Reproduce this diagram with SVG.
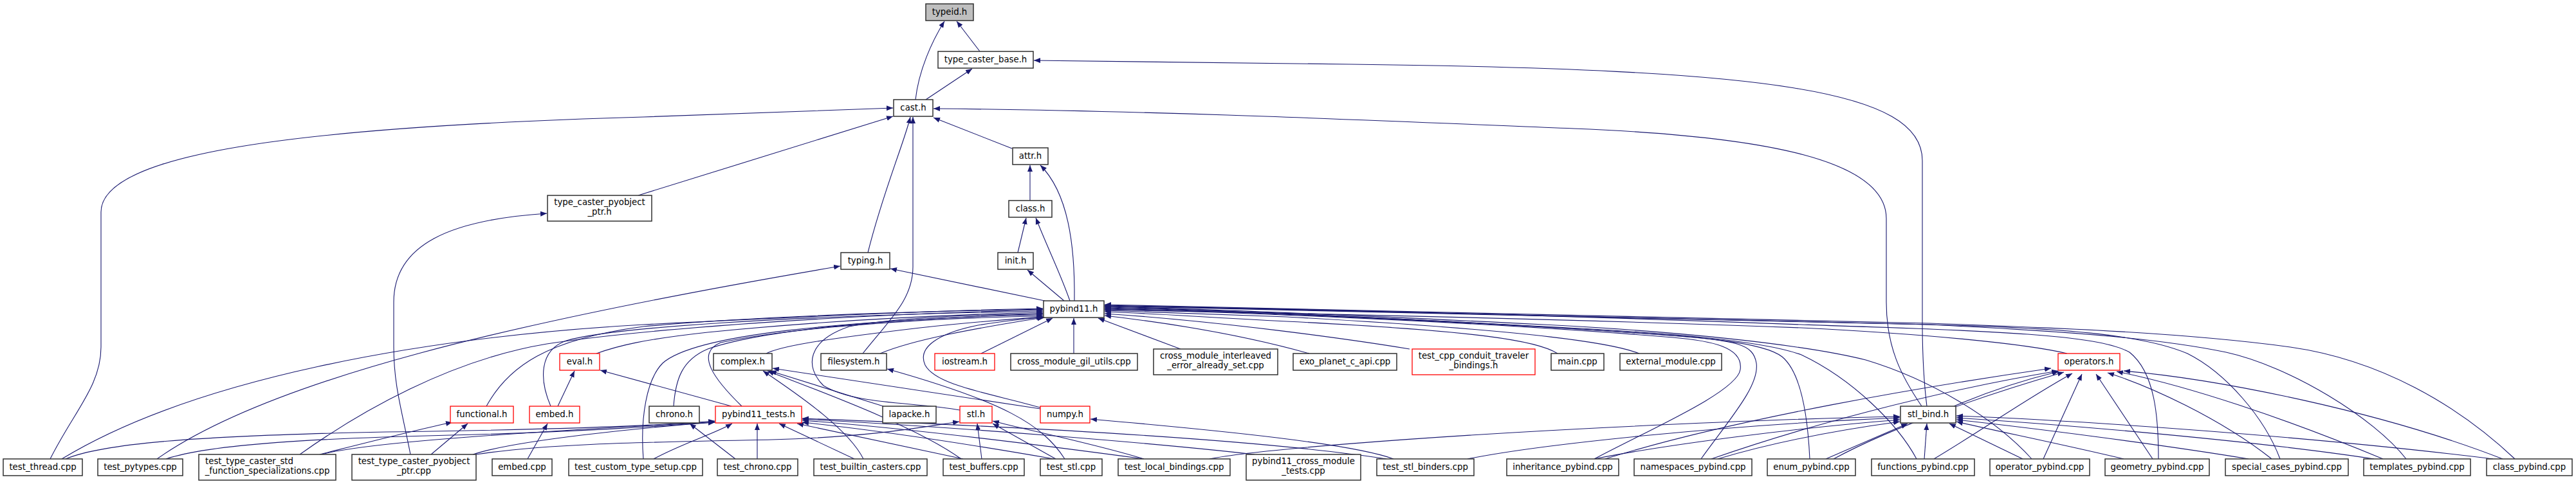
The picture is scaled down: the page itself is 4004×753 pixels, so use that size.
<svg xmlns="http://www.w3.org/2000/svg" width="4004" height="753" viewBox="0 0 4004 753">
<style>
.e{fill:none;stroke:#191970;stroke-width:1.1;marker-end:url(#ah)}
.n{fill:#ffffff;stroke:#303030;stroke-width:1.5}
.r{fill:#ffffff;stroke:#ff0000;stroke-width:1.3}
.g{fill:#bfbfbf;stroke:#303030;stroke-width:1.5}
text{font-family:"DejaVu Sans","Liberation Sans",sans-serif;font-size:13.3px;fill:#000000}
.m{text-anchor:middle}
</style>
<defs>
<marker id="ah" markerUnits="userSpaceOnUse" markerWidth="11" markerHeight="9" refX="10" refY="4.5" orient="auto">
<path d="M0,0.5 L10,4.5 L0,8.5 z" fill="#191970"/>
</marker>
</defs>
<rect x="0" y="0" width="4004" height="753" fill="#ffffff"/>
<g id="edges">
<path class="e" d="M1523,80 L1487,33"/>
<path class="e" d="M1423,155 C1428,110 1448,65 1468,33"/>
<path class="e" d="M1439,155 L1511,107"/>
<path class="e" d="M2995,632 C2991,600 2988,560 2988,500 L2988,250 C2988,140 2750,108 2100,100 C1900,97 1750,95 1607,94"/>
<path class="e" d="M2987,632 C2955,585 2932,540 2932,470 L2932,340 C2932,250 2750,212 2446,200 C2150,188 1800,172 1451,169"/>
<path class="e" d="M1573,231 L1451,183"/>
<path class="e" d="M992,304 L1388,181"/>
<path class="e" d="M1349,393 C1372,300 1406,220 1415,182"/>
<path class="e" d="M1341,550 C1385,495 1419,465 1419,415 L1419,182"/>
<path class="e" d="M1601,312 L1601,257"/>
<path class="e" d="M1582,393 L1595,339"/>
<path class="e" d="M1663,468 C1648,425 1628,385 1610,339"/>
<path class="e" d="M1670,468 C1671,380 1660,300 1617,257"/>
<path class="e" d="M1654,468 L1597,420"/>
<path class="e" d="M1624,468 L1384,418"/>
<path class="e" d="M244,714 C420,590 800,500 1306,414"/>
<path class="e" d="M78,714 C115,640 157,600 157,540 L157,330 C157,240 450,198 1000,182 C1200,176 1300,170 1388,168"/>
<path class="e" d="M638,707 C625,640 612,600 612,540 L612,470 C612,380 700,342 850,332"/>
<path class="e" d="M96,714 C300,590 650,525 1000,505 C1300,490 1500,482 1621,480"/>
<path class="e" d="M466,707 C560,640 700,560 850,535 C1000,512 1300,490 1621,482"/>
<path class="e" d="M756,632 C790,570 850,528 1000,508 C1200,490 1450,484 1621,481"/>
<path class="e" d="M856,632 C838,590 838,545 880,530 C950,510 1200,492 1621,484"/>
<path class="e" d="M927,550 C960,538 1000,528 1100,517 C1300,497 1500,489 1621,486"/>
<path class="e" d="M1000,714 C995,650 1005,590 1030,565 C1080,520 1300,500 1621,488"/>
<path class="e" d="M1047,632 C1050,590 1060,560 1100,543 C1200,508 1450,492 1621,490"/>
<path class="e" d="M1153,632 C1110,590 1080,550 1120,533 C1250,505 1500,493 1621,492"/>
<path class="e" d="M1191,550 C1210,540 1260,530 1430,510 C1520,500 1580,496 1621,493"/>
<path class="e" d="M1368,550 C1420,528 1520,510 1622,494"/>
<path class="e" d="M1492,638 C1420,625 1330,630 1280,600 C1250,570 1255,530 1320,508 C1400,492 1550,489 1621,488"/>
<path class="e" d="M1617,634 C1540,612 1455,600 1438,568 C1425,540 1460,518 1520,506 C1570,498 1600,495 1624,494"/>
<path class="e" d="M1525,550 L1636,495"/>
<path class="e" d="M1669,550 L1669,495"/>
<path class="e" d="M1655,714 C1620,660 1560,625 1379,574"/>
<path class="e" d="M1835,543 L1707,495"/>
<path class="e" d="M2035,550 C2010,543 1900,512 1717,491"/>
<path class="e" d="M2191,543 C2100,528 1900,500 1717,488"/>
<path class="e" d="M2421,550 C2390,530 2300,515 2000,500 C1850,492 1760,486 1717,485"/>
<path class="e" d="M2548,550 C2510,535 2400,515 2000,493 C1850,487 1760,484 1717,483"/>
<path class="e" d="M3213,550 C3150,535 3000,520 2800,510 C2400,495 2000,487 1717,482"/>
<path class="e" d="M2478,714 C2560,670 2700,610 2705,575 C2710,540 2660,530 2600,525 C2300,500 1900,485 1717,481"/>
<path class="e" d="M2644,714 C2690,650 2735,600 2730,565 C2725,535 2700,530 2600,522 C2300,500 1900,484 1717,480"/>
<path class="e" d="M2813,714 C2810,650 2800,580 2770,555 C2740,532 2650,525 2500,515 C2200,495 1900,483 1717,479"/>
<path class="e" d="M2979,714 C2950,660 2880,590 2800,552 C2740,530 2600,518 2400,508 C2100,492 1850,481 1717,478"/>
<path class="e" d="M3158,714 C3100,650 3000,590 2900,560 C2800,535 2600,515 2400,505 C2100,490 1850,480 1717,477"/>
<path class="e" d="M3355,714 C3355,650 3350,580 3310,548 C3260,520 3100,515 2800,505 C2400,490 2000,480 1717,476"/>
<path class="e" d="M3544,714 C3520,650 3460,580 3400,550 C3330,520 3200,510 3000,505 C2500,490 2000,480 1717,476"/>
<path class="e" d="M3740,714 C3690,650 3560,570 3460,548 C3350,525 3200,515 3000,505 C2500,490 2000,478 1717,475"/>
<path class="e" d="M3909,714 C3820,630 3700,560 3560,540 C3400,518 3200,510 3000,503 C2500,488 2000,477 1717,474"/>
<path class="e" d="M2495,714 C2700,650 3000,600 3188,573"/>
<path class="e" d="M2660,714 C2800,665 3000,610 3199,577"/>
<path class="e" d="M2850,714 C2950,660 3100,610 3208,579"/>
<path class="e" d="M3006,714 C3080,670 3150,620 3221,581"/>
<path class="e" d="M3037,632 C3100,605 3150,590 3200,578"/>
<path class="e" d="M3176,714 L3236,582"/>
<path class="e" d="M3346,714 L3258,582"/>
<path class="e" d="M3531,714 C3450,650 3340,600 3276,580"/>
<path class="e" d="M3704,714 C3550,650 3400,600 3290,578"/>
<path class="e" d="M3890,714 C3700,640 3450,590 3301,577"/>
<path class="e" d="M1880,714 C1950,700 2200,680 2500,665 C2700,655 2850,650 2953,648"/>
<path class="e" d="M2281,714 C2400,690 2700,660 2953,650"/>
<path class="e" d="M2478,714 C2600,690 2800,665 2953,653"/>
<path class="e" d="M2670,714 C2750,690 2850,670 2953,656"/>
<path class="e" d="M2838,714 L2965,659"/>
<path class="e" d="M2991,714 L2995,659"/>
<path class="e" d="M3144,714 L3030,659"/>
<path class="e" d="M3301,714 C3200,690 3100,670 3041,656"/>
<path class="e" d="M3495,714 C3350,690 3150,665 3041,653"/>
<path class="e" d="M3690,714 C3500,685 3200,660 3041,650"/>
<path class="e" d="M3875,714 C3600,680 3250,655 3041,647"/>
<path class="e" d="M102,714 C160,690 300,678 600,672 C900,668 1050,660 1111,655"/>
<path class="e" d="M258,714 C330,690 500,682 700,677 C900,672 1050,662 1111,656"/>
<path class="e" d="M500,707 C560,690 800,672 1111,657"/>
<path class="e" d="M735,707 C800,685 1000,665 1111,657"/>
<path class="e" d="M1016,714 C1060,690 1110,675 1138,659"/>
<path class="e" d="M1177,714 L1177,659"/>
<path class="e" d="M1328,714 L1211,659"/>
<path class="e" d="M1497,714 L1239,659"/>
<path class="e" d="M1638,714 C1500,690 1350,668 1247,657"/>
<path class="e" d="M1778,714 C1600,690 1400,665 1247,654"/>
<path class="e" d="M1950,707 C1800,690 1500,665 1247,652"/>
<path class="e" d="M2155,714 C2000,690 1700,668 1247,651"/>
<path class="e" d="M1143,714 L1072,659"/>
<path class="e" d="M497,707 C580,686 650,668 703,657"/>
<path class="e" d="M670,707 L727,659"/>
<path class="e" d="M820,714 L851,659"/>
<path class="e" d="M867,632 L893,577"/>
<path class="e" d="M1137,632 L933,576"/>
<path class="e" d="M1342,714 C1320,670 1250,620 1186,577"/>
<path class="e" d="M1494,714 C1420,660 1250,600 1193,577"/>
<path class="e" d="M1373,632 L1197,577"/>
<path class="e" d="M1617,636 L1201,573"/>
<path class="e" d="M740,707 C850,690 1000,688 1200,684 C1350,680 1430,665 1491,656"/>
<path class="e" d="M1526,714 L1519,659"/>
<path class="e" d="M1641,714 L1543,659"/>
<path class="e" d="M1778,714 C1700,690 1600,670 1543,655"/>
<path class="e" d="M2166,714 C2100,690 1900,670 1695,652"/>
</g>
<g id="n_typeid_h"><rect class="g" x="1439" y="6" width="74" height="26"/><text class="m" x="1476" y="23">typeid.h</text></g>
<g id="n_type_caster_base_h"><rect class="n" x="1458" y="80" width="148" height="26"/><text class="m" x="1532" y="97">type_caster_base.h</text></g>
<g id="n_cast_h"><rect class="n" x="1389" y="155" width="61" height="26"/><text class="m" x="1419.5" y="172">cast.h</text></g>
<g id="n_attr_h"><rect class="n" x="1574" y="230" width="55" height="26"/><text class="m" x="1601.5" y="247">attr.h</text></g>
<g id="n_type_caster_pyobject_ptr_h"><rect class="n" x="851" y="304" width="162" height="40"/><text class="m" x="932" y="319">type_caster_pyobject</text><text class="m" x="932" y="334">_ptr.h</text></g>
<g id="n_class_h"><rect class="n" x="1568" y="312" width="67" height="26"/><text class="m" x="1601.5" y="329">class.h</text></g>
<g id="n_typing_h"><rect class="n" x="1307" y="393" width="76" height="26"/><text class="m" x="1345" y="410">typing.h</text></g>
<g id="n_init_h"><rect class="n" x="1551" y="393" width="55" height="26"/><text class="m" x="1578.5" y="410">init.h</text></g>
<g id="n_pybind11_h"><rect class="n" x="1622" y="468" width="94" height="26"/><text class="m" x="1669" y="485">pybind11.h</text></g>
<g id="n_eval_h"><rect class="r" x="870" y="550" width="62" height="26"/><text class="m" x="901" y="567">eval.h</text></g>
<g id="n_complex_h"><rect class="n" x="1109" y="550" width="91" height="26"/><text class="m" x="1154.5" y="567">complex.h</text></g>
<g id="n_filesystem_h"><rect class="n" x="1276" y="550" width="102" height="26"/><text class="m" x="1327" y="567">filesystem.h</text></g>
<g id="n_iostream_h"><rect class="r" x="1453" y="550" width="93" height="26"/><text class="m" x="1499.5" y="567">iostream.h</text></g>
<g id="n_cross_module_gil_utils_cpp"><rect class="n" x="1571" y="550" width="197" height="26"/><text class="m" x="1669.5" y="567">cross_module_gil_utils.cpp</text></g>
<g id="n_cross_module_interleaved_error_already_set_cpp"><rect class="n" x="1793" y="543" width="193" height="40"/><text class="m" x="1889.5" y="558">cross_module_interleaved</text><text class="m" x="1889.5" y="573">_error_already_set.cpp</text></g>
<g id="n_exo_planet_c_api_cpp"><rect class="n" x="2010" y="550" width="161" height="26"/><text class="m" x="2090.5" y="567">exo_planet_c_api.cpp</text></g>
<g id="n_test_cpp_conduit_traveler_bindings_h"><rect class="r" x="2195" y="543" width="191" height="40"/><text class="m" x="2290.5" y="558">test_cpp_conduit_traveler</text><text class="m" x="2290.5" y="573">_bindings.h</text></g>
<g id="n_main_cpp"><rect class="n" x="2411" y="550" width="82" height="26"/><text class="m" x="2452" y="567">main.cpp</text></g>
<g id="n_external_module_cpp"><rect class="n" x="2518" y="550" width="158" height="26"/><text class="m" x="2597" y="567">external_module.cpp</text></g>
<g id="n_operators_h"><rect class="r" x="3199" y="550" width="96" height="26"/><text class="m" x="3247" y="567">operators.h</text></g>
<g id="n_functional_h"><rect class="r" x="700" y="632" width="98" height="26"/><text class="m" x="749" y="649">functional.h</text></g>
<g id="n_embed_h"><rect class="r" x="823" y="632" width="78" height="26"/><text class="m" x="862" y="649">embed.h</text></g>
<g id="n_chrono_h"><rect class="n" x="1009" y="632" width="78" height="26"/><text class="m" x="1048" y="649">chrono.h</text></g>
<g id="n_pybind11_tests_h"><rect class="r" x="1112" y="632" width="134" height="26"/><text class="m" x="1179" y="649">pybind11_tests.h</text></g>
<g id="n_lapacke_h"><rect class="n" x="1372" y="632" width="83" height="26"/><text class="m" x="1413.5" y="649">lapacke.h</text></g>
<g id="n_stl_h"><rect class="r" x="1492" y="632" width="50" height="26"/><text class="m" x="1517" y="649">stl.h</text></g>
<g id="n_numpy_h"><rect class="r" x="1617" y="632" width="77" height="26"/><text class="m" x="1655.5" y="649">numpy.h</text></g>
<g id="n_stl_bind_h"><rect class="n" x="2954" y="632" width="86" height="26"/><text class="m" x="2997" y="649">stl_bind.h</text></g>
<g id="n_test_thread_cpp"><rect class="n" x="5" y="714" width="123" height="26"/><text class="m" x="66.5" y="731">test_thread.cpp</text></g>
<g id="n_test_pytypes_cpp"><rect class="n" x="152" y="714" width="132" height="26"/><text class="m" x="218" y="731">test_pytypes.cpp</text></g>
<g id="n_test_type_caster_std_function_specializations_cpp"><rect class="n" x="309" y="707" width="213" height="40"/><text x="319" y="722">test_type_caster_std</text><text class="m" x="415.5" y="737">_function_specializations.cpp</text></g>
<g id="n_test_type_caster_pyobject_ptr_cpp"><rect class="n" x="547" y="707" width="193" height="40"/><text class="m" x="643.5" y="722">test_type_caster_pyobject</text><text class="m" x="643.5" y="737">_ptr.cpp</text></g>
<g id="n_embed_cpp"><rect class="n" x="765" y="714" width="93" height="26"/><text class="m" x="811.5" y="731">embed.cpp</text></g>
<g id="n_test_custom_type_setup_cpp"><rect class="n" x="884" y="714" width="208" height="26"/><text class="m" x="988" y="731">test_custom_type_setup.cpp</text></g>
<g id="n_test_chrono_cpp"><rect class="n" x="1115" y="714" width="125" height="26"/><text class="m" x="1177.5" y="731">test_chrono.cpp</text></g>
<g id="n_test_builtin_casters_cpp"><rect class="n" x="1265" y="714" width="176" height="26"/><text class="m" x="1353" y="731">test_builtin_casters.cpp</text></g>
<g id="n_test_buffers_cpp"><rect class="n" x="1466" y="714" width="126" height="26"/><text class="m" x="1529" y="731">test_buffers.cpp</text></g>
<g id="n_test_stl_cpp"><rect class="n" x="1617" y="714" width="96" height="26"/><text class="m" x="1665" y="731">test_stl.cpp</text></g>
<g id="n_test_local_bindings_cpp"><rect class="n" x="1738" y="714" width="174" height="26"/><text class="m" x="1825" y="731">test_local_bindings.cpp</text></g>
<g id="n_pybind11_cross_module_tests_cpp"><rect class="n" x="1937" y="707" width="178" height="40"/><text class="m" x="2026" y="722">pybind11_cross_module</text><text class="m" x="2026" y="737">_tests.cpp</text></g>
<g id="n_test_stl_binders_cpp"><rect class="n" x="2140" y="714" width="151" height="26"/><text class="m" x="2215.5" y="731">test_stl_binders.cpp</text></g>
<g id="n_inheritance_pybind_cpp"><rect class="n" x="2342" y="714" width="174" height="26"/><text class="m" x="2429" y="731">inheritance_pybind.cpp</text></g>
<g id="n_namespaces_pybind_cpp"><rect class="n" x="2540" y="714" width="183" height="26"/><text class="m" x="2631.5" y="731">namespaces_pybind.cpp</text></g>
<g id="n_enum_pybind_cpp"><rect class="n" x="2747" y="714" width="137" height="26"/><text class="m" x="2815.5" y="731">enum_pybind.cpp</text></g>
<g id="n_functions_pybind_cpp"><rect class="n" x="2909" y="714" width="160" height="26"/><text class="m" x="2989" y="731">functions_pybind.cpp</text></g>
<g id="n_operator_pybind_cpp"><rect class="n" x="3093" y="714" width="155" height="26"/><text class="m" x="3170.5" y="731">operator_pybind.cpp</text></g>
<g id="n_geometry_pybind_cpp"><rect class="n" x="3272" y="714" width="162" height="26"/><text class="m" x="3353" y="731">geometry_pybind.cpp</text></g>
<g id="n_special_cases_pybind_cpp"><rect class="n" x="3459" y="714" width="191" height="26"/><text class="m" x="3554.5" y="731">special_cases_pybind.cpp</text></g>
<g id="n_templates_pybind_cpp"><rect class="n" x="3674" y="714" width="166" height="26"/><text class="m" x="3757" y="731">templates_pybind.cpp</text></g>
<g id="n_class_pybind_cpp"><rect class="n" x="3865" y="714" width="133" height="26"/><text class="m" x="3931.5" y="731">class_pybind.cpp</text></g>
</svg>
